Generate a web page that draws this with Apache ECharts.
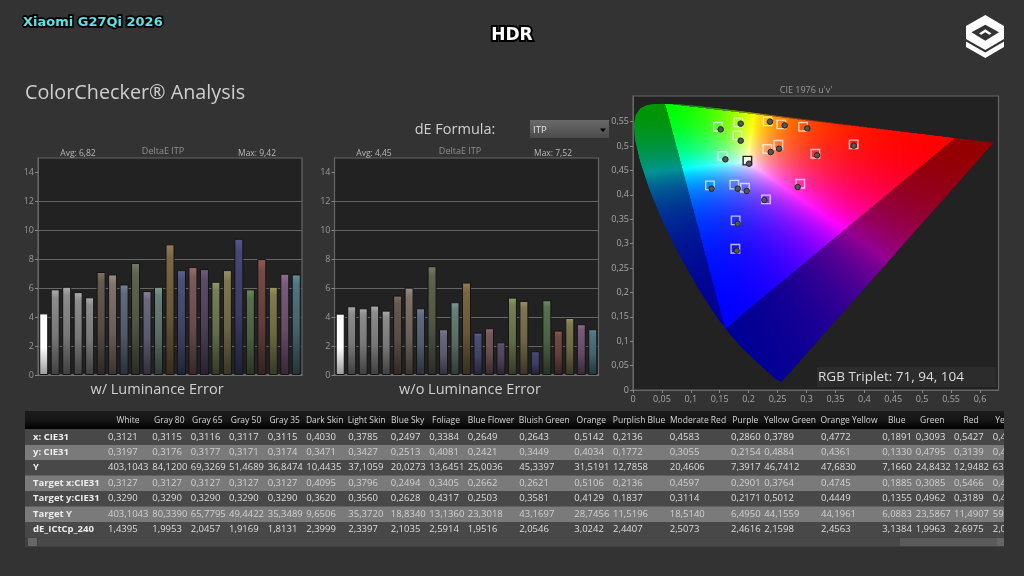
<!DOCTYPE html>
<html>
<head>
<meta charset="utf-8">
<script src="https://cdn.jsdelivr.net/npm/echarts@6/dist/echarts.min.js"></script>
<style>
html, body { margin: 0; padding: 0; background: #333333; }
#main { width: 1024px; height: 576px; }
</style>
</head>
<body>
<div id="main"></div>
<script>
// bar charts
var patches = ['White', 'Gray 80', 'Gray 65', 'Gray 50', 'Gray 35', 'Dark Skin', 'Light Skin', 'Blue Sky', 'Foliage', 'Blue Flower', 'Bluish Green', 'Orange', 'Purplish Blue', 'Moderate Red', 'Purple', 'Yellow Green', 'Orange Yellow', 'Blue', 'Green', 'Red', 'Yellow', 'Magenta', 'Cyan'];
var withLum = [4.26, 5.92, 6.10, 5.73, 5.37, 7.12, 6.95, 6.26, 7.74, 5.80, 6.10, 9.03, 7.25, 7.46, 7.32, 6.45, 7.25, 9.42, 5.92, 8.01, 6.10, 7.00, 6.95];
var withoutLum = [4.24, 4.75, 4.61, 4.80, 4.45, 5.49, 6.04, 4.61, 7.52, 3.16, 5.03, 6.39, 2.93, 3.23, 2.26, 5.35, 5.12, 1.64, 5.17, 3.07, 3.94, 3.51, 3.16];
var barColors = ['#ffffff', '#8c8c8c', '#8c8c8c', '#8c8c8c', '#8c8c8c', '#655a50', '#7f736b', '#5f6a7c', '#5e6350', '#6c697f', '#677f76', '#7a6643', '#4b5078', '#7a5a5a', '#5a4c66', '#757f55', '#7f7650', '#454775', '#58704f', '#754a45', '#7f7a4e', '#785a78', '#507480'];
var barTicks = [0, 2, 4, 6, 8, 10, 12, 14];

// cie diagram, u' v'
var locusU = [0.2568, 0.2461, 0.2347, 0.2161, 0.1877, 0.1690, 0.1441, 0.1147, 0.0828, 0.0521, 0.0282, 0.0119, 0.0035, 0.0014, 0.0046, 0.0123, 0.0231, 0.0360, 0.0501, 0.0792, 0.1127, 0.1531, 0.2026, 0.2623, 0.3315, 0.4035, 0.5203, 0.6005, 0.6234];
var locusV = [0.0165, 0.0226, 0.0350, 0.0549, 0.0871, 0.1120, 0.1510, 0.2044, 0.2708, 0.3427, 0.4117, 0.4699, 0.5131, 0.5431, 0.5638, 0.5770, 0.5837, 0.5861, 0.5868, 0.5856, 0.5821, 0.5766, 0.5694, 0.5604, 0.5501, 0.5393, 0.5219, 0.5099, 0.5065];
var targetU = [0.147, 0.1821, 0.1804, 0.2329, 0.2565, 0.294, 0.2513, 0.2323, 0.3816, 0.3153, 0.1545, 0.1331, 0.1752, 0.1937, 0.2893, 0.23, 0.1775, 0.177];
var targetV = [0.5396, 0.5485, 0.5219, 0.5505, 0.5444, 0.5396, 0.5027, 0.4939, 0.5034, 0.4843, 0.4795, 0.4194, 0.4208, 0.4146, 0.4228, 0.3907, 0.3477, 0.2896];
var whiteTarget = [0.1978, 0.4700];
var measuredU = [0.1516, 0.1862, 0.1862, 0.2369, 0.2623, 0.3015, 0.2525, 0.2381, 0.3816, 0.3182, 0.1597, 0.2006, 0.136, 0.181, 0.1966, 0.2847, 0.2271, 0.181, 0.1793];
var measuredV = [0.5342, 0.5458, 0.5109, 0.5499, 0.5423, 0.5362, 0.4945, 0.4877, 0.5007, 0.4809, 0.4727, 0.4638, 0.4126, 0.4126, 0.4078, 0.416, 0.3893, 0.3408, 0.2855];
var uTicks = [0, 0.05, 0.1, 0.15, 0.2, 0.25, 0.3, 0.35, 0.4, 0.45, 0.5, 0.55, 0.6];
var vTicks = [0, 0.05, 0.1, 0.15, 0.2, 0.25, 0.3, 0.35, 0.4, 0.45, 0.5, 0.55];
var uMax = 0.632, vMax = 0.6025;

// table
var tableHeaders = ['White', 'Gray 80', 'Gray 65', 'Gray 50', 'Gray 35', 'Dark Skin', 'Light Skin', 'Blue Sky', 'Foliage', 'Blue Flower', 'Bluish Green', 'Orange', 'Purplish Blue', 'Moderate Red', 'Purple', 'Yellow Green', 'Orange Yellow', 'Blue', 'Green', 'Red', 'Yellow'];
var rowNames = ['x: CIE31', 'y: CIE31', 'Y', 'Target x:CIE31', 'Target y:CIE31', 'Target Y', 'dE_ICtCp_240'];
var rowX = ['0,3121', '0,3115', '0,3116', '0,3117', '0,3115', '0,4030', '0,3785', '0,2497', '0,3384', '0,2649', '0,2643', '0,5142', '0,2136', '0,4583', '0,2860', '0,3789', '0,4772', '0,1891', '0,3093', '0,5427', '0,4'];
var rowY = ['0,3197', '0,3176', '0,3177', '0,3171', '0,3174', '0,3471', '0,3427', '0,2513', '0,4081', '0,2421', '0,3449', '0,4034', '0,1772', '0,3055', '0,2154', '0,4884', '0,4361', '0,1330', '0,4795', '0,3139', '0,4'];
var rowLum = ['403,1043', '84,1200', '69,3269', '51,4689', '36,8474', '10,4435', '37,1059', '20,0273', '13,6451', '25,0036', '45,3397', '31,5191', '12,7858', '20,4606', '7,3917', '46,7412', '47,6830', '7,1660', '24,8432', '12,9482', '63'];
var rowTx = ['0,3127', '0,3127', '0,3127', '0,3127', '0,3127', '0,4095', '0,3796', '0,2494', '0,3405', '0,2662', '0,2621', '0,5106', '0,2136', '0,4597', '0,2901', '0,3764', '0,4745', '0,1885', '0,3085', '0,5466', '0,4'];
var rowTy = ['0,3290', '0,3290', '0,3290', '0,3290', '0,3290', '0,3620', '0,3560', '0,2628', '0,4317', '0,2503', '0,3581', '0,4129', '0,1837', '0,3114', '0,2171', '0,5012', '0,4449', '0,1355', '0,4962', '0,3189', '0,4'];
var rowTLum = ['403,1043', '80,3390', '65,7795', '49,4422', '35,3489', '9,6506', '35,3720', '18,8340', '13,1360', '23,3018', '43,1697', '28,7456', '11,5196', '18,5140', '6,4950', '44,1559', '44,1961', '6,0883', '23,5867', '11,4907', '59'];
var rowDE = ['1,4395', '1,9953', '2,0457', '1,9169', '1,8131', '2,3999', '2,3397', '2,1035', '2,5914', '1,9516', '2,0546', '3,0242', '2,4407', '2,5073', '2,4616', '2,1598', '2,4563', '3,1384', '1,9963', '2,6975', '2,0'];
var tableRows = [rowX, rowY, rowLum, rowTx, rowTy, rowTLum, rowDE];

// table layout, px
var valueX = [108, 152.3, 190.7, 229, 267.7, 306.3, 348.3, 390.7, 429.3, 467.7, 519.3, 574.3, 613, 669.7, 731, 764.3, 821, 882.3, 915.7, 954, 992.7];
var headerX = [128, 169.3, 207.3, 246, 284.7, 324.7, 366.7, 407.7, 446, 491, 544.3, 591.3, 639, 698, 745.3, 790, 849, 896.7, 932.3, 971, 1008];
var rowTop = [429.5, 445, 460, 475.5, 491, 506.5, 522];
var FONT = '"Open Sans", "Noto Sans", sans-serif';

// paint the u'v' gamut to an offscreen canvas, colours only
function makeGamutCanvas() {
	var w = 760, h = 600;
	var cv = document.createElement('canvas');
	cv.width = w;
	cv.height = h;
	var ctx = cv.getContext('2d');
	var img = ctx.createImageData(w, h);
	for (var py = 0; py < h; py++) {
		for (var px = 0; px < w; px++) {
			var u = (px + 0.5) / w * uMax;
			var v = vMax - (py + 0.5) / h * vMax;
			var d = 6 * u - 16 * v + 12;
			var x = 9 * u / d, y = 4 * v / d;
			if (y < 0.001) y = 0.001;
			var X = x / y, Z = (1 - x - y) / y;
			// bt2020 primaries
			var r = 1.7167 * X - 0.3557 - 0.2534 * Z;
			var g = -0.6667 * X + 1.6165 + 0.0158 * Z;
			var b = 0.0176 * X - 0.0428 + 0.9421 * Z;
			var outside = r < 0 || g < 0 || b < 0;
			r = Math.max(r, 0); g = Math.max(g, 0); b = Math.max(b, 0);
			var m = Math.max(r, g, b) || 1;
			var k = outside ? 0.58 : 1;
			var i = (py * w + px) * 4;
			img.data[i] = 255 * k * Math.pow(r / m, 1.5);
			img.data[i + 1] = 255 * k * Math.pow(g / m, 1.5);
			img.data[i + 2] = 255 * k * Math.pow(b / m, 1.5);
			img.data[i + 3] = 255;
		}
	}
	ctx.putImageData(img, 0, 0);
	ctx.globalCompositeOperation = 'destination-in';
	ctx.beginPath();
	for (var n = 0; n < locusU.length; n++) {
		var lx = locusU[n] / uMax * w, ly = (vMax - locusV[n]) / vMax * h;
		if (n === 0) ctx.moveTo(lx, ly); else ctx.lineTo(lx, ly);
	}
	ctx.closePath();
	ctx.fill();
	return cv;
}
var gamutCanvas = makeGamutCanvas();

function shade(hex, f) {
	var rgb = echarts.color.parse(hex);
	return 'rgb(' + Math.min(255, rgb[0] * f | 0) + ',' + Math.min(255, rgb[1] * f | 0) + ',' + Math.min(255, rgb[2] * f | 0) + ')';
}

function barSeries(values, idx) {
	return {
		type: 'bar',
		xAxisIndex: idx,
		yAxisIndex: idx,
		barWidth: 9,
		data: values.map(function (v, i) {
			var c = barColors[i];
			return {
				value: v,
				itemStyle: {
					borderColor: '#141414',
					borderWidth: 1,
					color: new echarts.graphic.LinearGradient(0, 0, 0, 1, [
						{ offset: 0, color: shade(c, 1.25) },
						{ offset: 0.1, color: c },
						{ offset: 0.55, color: shade(c, i === 0 ? 1 : 0.85) },
						{ offset: 1, color: shade(c, i === 0 ? 0.6 : 0.45) }
					])
				}
			};
		})
	};
}

function barX(idx) {
	return {
		type: 'category',
		gridIndex: idx,
		data: patches,
		axisLabel: { show: false },
		axisTick: { show: false },
		axisLine: { lineStyle: { color: '#777', width: 1.5 } }
	};
}
function barY(idx) {
	return {
		type: 'value',
		gridIndex: idx,
		min: 0,
		max: 15,
		interval: 2,
		axisLine: { show: true, lineStyle: { color: '#666' } },
		axisTick: { show: true, length: 3, customValues: barTicks, lineStyle: { color: '#888' } },
		axisLabel: { color: '#9a9a9a', fontSize: 9, margin: 4, customValues: barTicks, fontFamily: FONT },
		splitLine: { show: true, showMaxLine: false, lineStyle: { color: '#666', width: 1.2 } }
	};
}
function comma(v) {
	return String(Number(v.toFixed(2))).replace('.', ',');
}

function txt(x, y, text, size, color, align, extra) {
	var st = { x: x, y: y, text: text, fontSize: size, fill: color, align: align || 'left', verticalAlign: 'middle', fontFamily: FONT };
	for (var k in (extra || {})) st[k] = extra[k];
	return { type: 'text', silent: true, z: 10, style: st };
}
function box(x, y, w, h, fill, z) {
	return { type: 'rect', silent: true, z: z || 5, shape: { x: x, y: y, width: w, height: h }, style: { fill: fill } };
}
function poly(points, fill) {
	return { type: 'polygon', silent: true, z: 10, shape: { points: points }, style: { fill: fill } };
}

var graphics = [
	txt(23, 23, 'Xiaomi G27Qi 2026', 13, '#5fe3e3', 'left', { fontFamily: '"DejaVu Sans"', fontWeight: 'bold', stroke: '#000', lineWidth: 3.5, strokeFirst: true }),
	txt(512, 36, 'HDR', 17, '#fff', 'center', { fontFamily: '"DejaVu Sans"', fontWeight: 'bold', stroke: '#000', lineWidth: 4, strokeFirst: true }),
	txt(25, 93, 'ColorChecker® Analysis', 19.8, '#cfcfcf'),
	txt(157, 390, 'w/ Luminance Error', 14.5, '#d0d0d0', 'center'),
	txt(470, 390, 'w/o Luminance Error', 14.5, '#d0d0d0', 'center'),
	txt(455, 130, 'dE Formula:', 14.5, '#d0d0d0', 'center'),
	txt(78, 153.5, 'Avg: 6,82', 8.5, '#b8b8b8', 'center'),
	txt(163, 151.5, 'DeltaE ITP', 9, '#8f8f8f', 'center'),
	txt(257, 153.5, 'Max: 9,42', 8.5, '#b8b8b8', 'center'),
	txt(374, 153.5, 'Avg: 4,45', 8.5, '#b8b8b8', 'center'),
	txt(460, 151.5, 'DeltaE ITP', 9, '#8f8f8f', 'center'),
	txt(553, 153.5, 'Max: 7,52', 8.5, '#b8b8b8', 'center'),
	txt(806, 90, "CIE 1976 u'v'", 9, '#9a9a9a', 'center'),
	// dropdown
	{ type: 'rect', silent: true, z: 5, shape: { x: 530, y: 120, width: 79, height: 18 }, style: { fill: new echarts.graphic.LinearGradient(0, 0, 0, 1, [{ offset: 0, color: '#6a6a6a' }, { offset: 1, color: '#4a4a4a' }]) } },
	txt(533, 130, 'ITP', 9.5, '#e4e4e4'),
	poly([[600, 128.5], [606, 128.5], [603, 132]], '#000'),
	// rgb readout
	box(817, 367, 179, 20, '#2c2c2c', 5),
	txt(818, 377.5, 'RGB Triplet: 71, 94, 104', 13.5, '#dcdcdc'),
	// logo
	poly([[985.3, 15], [1004, 26], [1004, 39], [985.3, 50], [966, 39], [966, 26]], '#fff'),
	poly([[971.5, 32.3], [985.3, 24.7], [999, 32.3], [985.3, 40.7]], '#333'),
	poly([[979, 33.5], [985.3, 29.3], [991.5, 33.5], [989.3, 34.8], [985.3, 32.3], [981.2, 34.8]], '#fff'),
	poly([[966, 41.5], [985.3, 52.5], [1004, 41.5], [1004, 47], [985.3, 58], [966, 47]], '#fff'),
	// table body
	box(25, 411, 979, 136, '#404040', 3),
	{ type: 'rect', silent: true, z: 4, shape: { x: 25, y: 411, width: 979, height: 18 }, style: { fill: new echarts.graphic.LinearGradient(0, 0, 0, 1, [{ offset: 0, color: '#1c1c1c' }, { offset: 0.5, color: '#161616' }, { offset: 1, color: '#000' }]) } },
	box(38, 538, 862, 8, '#484848', 4),
	box(900, 538, 104, 8, '#5a5a5a', 4),
	box(28, 538, 9, 8, '#666', 4),
	box(997, 538, 7, 8, '#666', 4),
	// clips the last column like the scrolled table
	box(1004, 405, 20, 150, '#333333', 20)
];
rowNames.forEach(function (name, r) {
	graphics.push(box(25, rowTop[r], 979, 15.5, r % 2 ? '#7a7a7a' : '#484848', 4));
	graphics.push(txt(33, rowTop[r] + 7.7, name, 9.5, '#ededed', 'left', { fontWeight: 'bold' }));
	tableRows[r].forEach(function (val, c) {
		graphics.push(txt(valueX[c], rowTop[r] + 7.7, val, 9.5, r % 2 ? '#d0d0d0' : '#dedede'));
	});
});
tableHeaders.forEach(function (name, c) {
	graphics.push(txt(headerX[c], 420.5, name, 8.5, '#d6d6d6', 'center'));
});

var chart = echarts.init(document.getElementById('main'));
chart.setOption({
	animation: false,
	backgroundColor: '#333333',
	graphic: graphics,
	grid: [
		{ left: 38, top: 158, width: 264, height: 217, show: true, backgroundColor: '#222', borderColor: '#666', borderWidth: 1.2 },
		{ left: 334.5, top: 158, width: 264, height: 217, show: true, backgroundColor: '#222', borderColor: '#666', borderWidth: 1.2 },
		{ left: 633, top: 96, width: 365.5, height: 294, show: true, backgroundColor: '#222', borderColor: '#666', borderWidth: 1.2 }
	],
	xAxis: [barX(0), barX(1), {
		type: 'value',
		gridIndex: 2,
		min: 0,
		max: uMax,
		axisLine: { show: true, lineStyle: { color: '#666' } },
		axisTick: { show: true, length: 3, customValues: uTicks, lineStyle: { color: '#888' } },
		axisLabel: { color: '#a8a8a8', fontSize: 9, margin: 5, customValues: uTicks, formatter: comma, fontFamily: FONT },
		splitLine: { show: false }
	}],
	yAxis: [barY(0), barY(1), {
		type: 'value',
		gridIndex: 2,
		min: 0,
		max: vMax,
		axisLine: { show: true, lineStyle: { color: '#666' } },
		axisTick: { show: true, length: 3, customValues: vTicks, lineStyle: { color: '#888' } },
		axisLabel: { color: '#a8a8a8', fontSize: 9, margin: 4, customValues: vTicks, formatter: comma, fontFamily: FONT },
		splitLine: { show: false }
	}],
	series: [
		barSeries(withLum, 0),
		barSeries(withoutLum, 1),
		{
			type: 'custom',
			xAxisIndex: 2,
			yAxisIndex: 2,
			silent: true,
			z: 1,
			clip: false,
			data: [[0, 0]],
			renderItem: function (params, api) {
				var tl = api.coord([0, vMax]);
				var br = api.coord([uMax, 0]);
				return { type: 'image', style: { image: gamutCanvas, x: tl[0], y: tl[1], width: br[0] - tl[0], height: br[1] - tl[1] } };
			}
		},
		{
			type: 'scatter',
			xAxisIndex: 2,
			yAxisIndex: 2,
			z: 3,
			symbol: 'rect',
			symbolSize: 8.5,
			itemStyle: { color: 'rgba(0,0,0,0)', borderColor: 'rgba(255,255,255,0.7)', borderWidth: 1.4, opacity: 1 },
			data: targetU.map(function (u, i) { return [u, targetV[i]]; })
		},
		{
			type: 'scatter',
			xAxisIndex: 2,
			yAxisIndex: 2,
			z: 3,
			symbol: 'rect',
			symbolSize: 8.5,
			itemStyle: { color: 'rgba(0,0,0,0)', borderColor: '#222', borderWidth: 1.4, opacity: 1 },
			data: [whiteTarget]
		},
		{
			type: 'scatter',
			xAxisIndex: 2,
			yAxisIndex: 2,
			z: 4,
			symbol: 'circle',
			symbolSize: 5.5,
			itemStyle: { color: '#555', borderColor: '#222', borderWidth: 1, opacity: 1 },
			data: measuredU.map(function (u, i) { return [u, measuredV[i]]; })
		}
	]
});
</script>
</body>
</html>
